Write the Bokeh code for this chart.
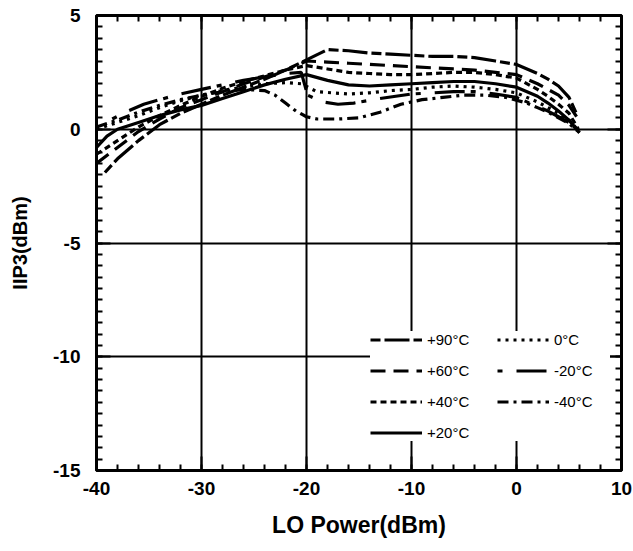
from bokeh.plotting import figure
from bokeh.models import Range1d, SingleIntervalTicker, LinearAxis, CustomJSTickFormatter
from bokeh.embed import file_html
from bokeh.resources import INLINE

# ---- data ----
x_p90 = [-39.2, -38, -36, -34, -32, -30, -28, -26, -24, -22, -20, -18, -16, -14, -12, -10, -8, -6, -4, -2, 0, 2, 3, 4, 5, 5.7]
y_p90 = [-1.9, -1.3, -0.5, 0.2, 0.7, 1.1, 1.5, 1.85, 2.2, 2.6, 3.05, 3.5, 3.45, 3.35, 3.3, 3.25, 3.2, 3.2, 3.15, 3.0, 2.85, 2.45, 2.2, 1.9, 1.4, 0.7]

x_p60 = [-40, -38, -36, -34, -32, -30, -28, -26, -24, -22, -20, -18, -16, -14, -12, -10, -8, -6, -4, -2, 0, 2, 3, 4, 5, 5.8]
y_p60 = [-1.5, -0.8, -0.1, 0.45, 0.95, 1.3, 1.65, 2.0, 2.3, 2.6, 3.0, 2.95, 2.9, 2.85, 2.8, 2.75, 2.7, 2.65, 2.6, 2.5, 2.4, 2.0, 1.75, 1.5, 1.05, 0.5]

x_p40 = [-40, -38, -36, -34, -32, -30, -28, -26, -24, -22, -20, -18, -16, -14, -12, -10, -8, -6, -4, -2, 0, 2, 3, 4, 5, 5.9]
y_p40 = [-1.1, -0.5, 0.1, 0.6, 1.05, 1.45, 1.8, 2.1, 2.35, 2.6, 2.8, 2.65, 2.5, 2.45, 2.4, 2.4, 2.45, 2.5, 2.5, 2.4, 2.25, 1.75, 1.45, 1.1, 0.7, 0.0]

x_p20 = [-40, -39, -38, -36, -34, -32, -30, -28, -26, -24, -22, -20, -18, -16, -14, -12, -10, -8, -6, -4, -2, 0, 2, 3, 4, 5, 6]
y_p20 = [-0.8, -0.3, 0.0, 0.3, 0.6, 0.85, 1.05, 1.35, 1.65, 1.95, 2.2, 2.4, 2.15, 1.95, 1.9, 1.95, 2.0, 2.05, 2.1, 2.1, 2.0, 1.85, 1.45, 1.15, 0.8, 0.4, -0.15]

x_0 = [-40, -38, -36, -34, -32, -30, -28, -26, -24, -22, -20.5, -19, -16, -14, -12, -10, -8, -6, -4, -2, 0, 2, 3, 4, 5, 6]
y_0 = [0.0, 0.3, 0.6, 0.95, 1.25, 1.5, 1.7, 1.85, 2.0, 2.05, 2.0, 1.65, 1.55, 1.6, 1.7, 1.75, 1.85, 1.9, 1.85, 1.75, 1.6, 1.2, 0.95, 0.7, 0.4, -0.1]

x_m20 = [-38.5, -37, -35.5, -34, -32, -30, -28, -26, -24, -22, -20.5, -19.9, -18.5, -17, -15.5, -13, -10, -8, -6, -4, -2, 0, 2, 3, 4, 5, 6]
y_m20 = [0.45, 0.8, 1.1, 1.3, 1.55, 1.75, 1.95, 2.15, 2.3, 2.45, 2.5, 1.5, 1.2, 1.1, 1.15, 1.35, 1.55, 1.6, 1.65, 1.65, 1.55, 1.4, 1.0, 0.8, 0.55, 0.3, -0.1]

x_m40 = [-40, -38, -36, -34, -32, -30, -28, -26, -24, -23, -22, -21, -20, -19, -17, -15, -13, -11, -9, -7, -5, -3, -1, 1, 2, 3, 4, 5, 6]
y_m40 = [0.1, 0.4, 0.75, 1.05, 1.3, 1.5, 1.65, 1.75, 1.7, 1.5, 1.15, 0.8, 0.55, 0.45, 0.45, 0.5, 0.75, 1.1, 1.3, 1.4, 1.5, 1.5, 1.4, 1.15, 0.95, 0.75, 0.5, 0.25, -0.15]

series = [
    ("+90°C", x_p90, y_p90, "10 4 25 4"),
    ("+60°C", x_p60, y_p60, "15 8"),
    ("+40°C", x_p40, y_p40, "6 4"),
    ("+20°C", x_p20, y_p20, "solid"),
    ("0°C", x_0, y_0, "3 5"),
    ("-20°C", x_m20, y_m20, "5 14 30 6"),
    ("-40°C", x_m40, y_m40, "11 5 3 5"),
]

x_label = "LO Power(dBm)"
y_label = "IIP3(dBm)"

FONT = "Liberation Sans"

p = figure(width=633, height=551, output_backend="svg", toolbar_location=None,
           x_range=Range1d(-40, 10), y_range=Range1d(-15, 5),
           min_border_left=96, min_border_right=12, min_border_top=15, min_border_bottom=81,
           background_fill_color="white", border_fill_color="white")

for label, xs, ys, dash in series:
    p.line(xs, ys, line_color="black", line_width=3.2, line_dash=dash, legend_label=label)

p.xaxis.ticker = SingleIntervalTicker(interval=10, num_minor_ticks=5)
p.yaxis.ticker = SingleIntervalTicker(interval=5, num_minor_ticks=10)

hyphen = CustomJSTickFormatter(code="return String(tick)")
p.xaxis.formatter = hyphen
p.yaxis.formatter = hyphen

p.outline_line_color = "black"
p.outline_line_width = 3
p.outline_line_alpha = 1

def style_axis(ax):
    ax.axis_line_color = None
    ax.major_tick_in = 14
    ax.major_tick_out = 0
    ax.minor_tick_in = 6
    ax.minor_tick_out = 0
    ax.major_tick_line_color = "black"
    ax.minor_tick_line_color = "black"
    ax.major_tick_line_width = 2
    ax.minor_tick_line_width = 2

for ax in [p.xaxis[0], p.yaxis[0]]:
    style_axis(ax)
    ax.major_label_text_font = FONT
    ax.major_label_text_font_style = "bold"
    ax.major_label_text_font_size = "19px"
    ax.major_label_text_color = "black"
    ax.axis_label_text_font = FONT
    ax.axis_label_text_font_style = "bold"
    ax.axis_label_text_color = "black"

p.xaxis.axis_label = x_label
p.xaxis.axis_label_text_font_size = "23px"
p.xaxis.major_label_standoff = 11
p.xaxis.axis_label_standoff = 14

p.yaxis.axis_label = y_label
p.yaxis.axis_label_text_font_size = "20px"
p.yaxis.major_label_standoff = 16
p.yaxis.axis_label_standoff = 19

blank = CustomJSTickFormatter(code="return ''")
top_ax = LinearAxis(ticker=SingleIntervalTicker(interval=10, num_minor_ticks=5), formatter=blank,
                    major_label_standoff=0, major_label_text_font_size="0px")
right_ax = LinearAxis(ticker=SingleIntervalTicker(interval=5, num_minor_ticks=10), formatter=blank,
                      major_label_standoff=0, major_label_text_font_size="0px")
style_axis(top_ax)
style_axis(right_ax)
p.add_layout(top_ax, "above")
p.add_layout(right_ax, "right")

for g in [p.xgrid[0], p.ygrid[0]]:
    g.grid_line_color = "black"
    g.grid_line_width = 2
    g.grid_line_alpha = 1

leg = p.legend[0]
leg.location = (274, 29)
leg.ncols = 2
leg.margin = 0
leg.padding = 12
leg.spacing = 14
leg.glyph_width = 52
leg.glyph_height = 15
leg.label_height = 15
leg.label_width = 56
leg.label_standoff = 5
leg.border_line_color = None
leg.background_fill_color = "white"
leg.background_fill_alpha = 1
leg.label_text_font = FONT
leg.label_text_font_size = "15px"
leg.label_text_color = "black"
leg.label_text_baseline = "hanging"

open("out.html", "w").write(file_html(p, INLINE))
